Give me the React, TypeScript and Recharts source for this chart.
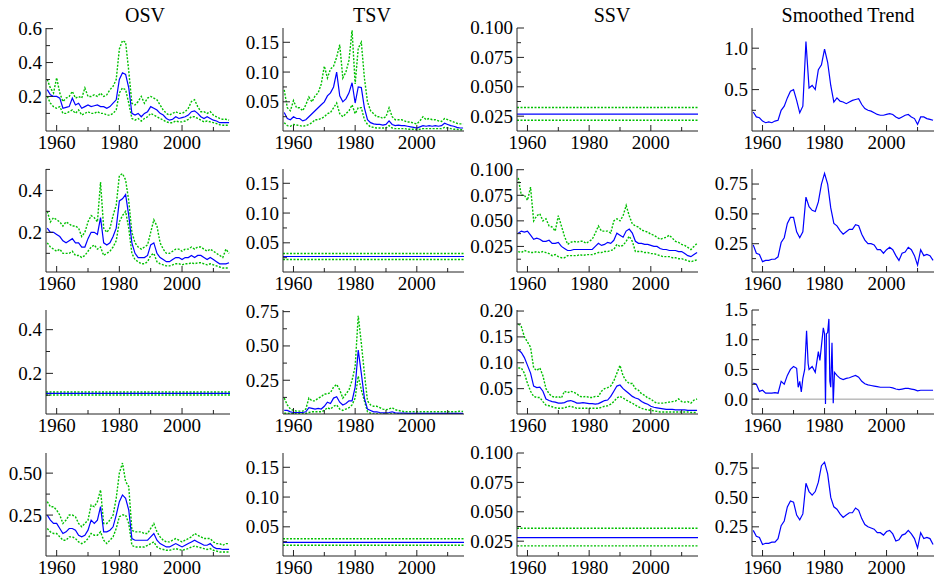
import { LineChart, Line, XAxis, YAxis, ReferenceLine } from 'recharts';

const FONT = '"Liberation Serif", "Times New Roman", serif';
const BLUE = '#0000ff';
const GREEN = '#00c000';

// ---- data -------------------------------------------------------------

const YEARS = [
  1957, 1958, 1959,
  1960, 1961, 1962, 1963, 1964, 1965, 1966, 1967, 1968, 1969,
  1970, 1971, 1972, 1973, 1974, 1975, 1976, 1977, 1978, 1979,
  1980, 1981, 1982, 1983, 1984, 1985, 1986, 1987, 1988, 1989,
  1990, 1991, 1992, 1993, 1994, 1995, 1996, 1997, 1998, 1999,
  2000, 2001, 2002, 2003, 2004, 2005, 2006, 2007, 2008, 2009,
  2010, 2011, 2012, 2013, 2014, 2015,
];

const X_DOMAIN: [number, number] = [1956.6, 2015.3];
const FLAT_T = [1956.6, 2015.3];
const X_TICKS = [1960, 1970, 1980, 1990, 2000, 2010];
const X_LABELS = [1960, 1980, 2000];
const TITLES = ['OSV', 'TSV', 'SSV', 'Smoothed Trend'];

// row 1
const OSV1_MID = [
  0.24, 0.21, 0.20,
  0.20, 0.19, 0.13, 0.135, 0.14, 0.19, 0.15, 0.16, 0.13, 0.14,
  0.15, 0.14, 0.145, 0.15, 0.14, 0.14, 0.13, 0.14, 0.16, 0.18,
  0.30, 0.34, 0.33, 0.25, 0.10, 0.09, 0.10, 0.08, 0.10, 0.11,
  0.14, 0.13, 0.12, 0.10, 0.09, 0.07, 0.06, 0.065, 0.08, 0.07,
  0.075, 0.08, 0.09, 0.11, 0.115, 0.10, 0.08, 0.07, 0.08, 0.07,
  0.06, 0.055, 0.045, 0.045, 0.045, 0.045,
];
const OSV1_HI = [
  0.30, 0.25, 0.22,
  0.31, 0.22, 0.17, 0.19, 0.20, 0.23, 0.19, 0.20, 0.19, 0.25,
  0.20, 0.20, 0.21, 0.20, 0.22, 0.20, 0.21, 0.24, 0.26, 0.30,
  0.48, 0.53, 0.52, 0.35, 0.16, 0.15, 0.17, 0.20, 0.16, 0.19,
  0.20, 0.19, 0.18, 0.15, 0.12, 0.10, 0.09, 0.10, 0.11, 0.10,
  0.10, 0.11, 0.13, 0.17, 0.18, 0.14, 0.11, 0.11, 0.10, 0.11,
  0.09, 0.08, 0.07, 0.065, 0.065, 0.06,
];
const OSV1_LO = [
  0.20, 0.16, 0.14,
  0.13, 0.14, 0.10, 0.10, 0.11, 0.12, 0.10, 0.12, 0.09, 0.10,
  0.11, 0.10, 0.10, 0.11, 0.10, 0.10, 0.09, 0.09, 0.10, 0.12,
  0.22, 0.25, 0.24, 0.16, 0.07, 0.06, 0.07, 0.055, 0.07, 0.08,
  0.10, 0.09, 0.08, 0.07, 0.06, 0.05, 0.045, 0.045, 0.055, 0.05,
  0.05, 0.055, 0.065, 0.08, 0.08, 0.07, 0.06, 0.05, 0.055, 0.05,
  0.045, 0.04, 0.033, 0.03, 0.03, 0.03,
];

const TSV1_MID = [
  0.032, 0.022, 0.020,
  0.025, 0.022, 0.022, 0.018, 0.020, 0.025, 0.030, 0.035, 0.040, 0.045,
  0.050, 0.060, 0.065, 0.075, 0.100, 0.060, 0.050, 0.055, 0.065, 0.082,
  0.048, 0.075, 0.074, 0.040, 0.020, 0.015, 0.013, 0.012, 0.012, 0.011,
  0.012, 0.018, 0.012, 0.010, 0.011, 0.010, 0.010, 0.009, 0.008, 0.007,
  0.006, 0.008, 0.010, 0.009, 0.010, 0.009, 0.010, 0.009, 0.010, 0.014,
  0.012, 0.010, 0.009, 0.007, 0.006, 0.006,
];
const TSV1_HI = [
  0.070, 0.040, 0.035,
  0.052, 0.040, 0.040, 0.035, 0.045, 0.058, 0.050, 0.060, 0.065, 0.080,
  0.110, 0.090, 0.105, 0.110, 0.125, 0.146, 0.090, 0.100, 0.120, 0.170,
  0.080, 0.140, 0.150, 0.090, 0.050, 0.035, 0.030, 0.025, 0.025, 0.022,
  0.025, 0.040, 0.025, 0.020, 0.020, 0.020, 0.018, 0.016, 0.016, 0.014,
  0.013, 0.018, 0.025, 0.020, 0.022, 0.020, 0.020, 0.018, 0.017, 0.022,
  0.020, 0.018, 0.016, 0.014, 0.013, 0.013,
];
const TSV1_LO = [
  0.015, 0.010, 0.009,
  0.012, 0.011, 0.010, 0.009, 0.010, 0.012, 0.015, 0.020, 0.020, 0.022,
  0.025, 0.030, 0.032, 0.040, 0.048, 0.030, 0.025, 0.030, 0.035, 0.045,
  0.030, 0.040, 0.040, 0.020, 0.012, 0.008, 0.007, 0.006, 0.006, 0.006,
  0.006, 0.010, 0.006, 0.005, 0.005, 0.005, 0.005, 0.004, 0.004, 0.004,
  0.003, 0.004, 0.005, 0.005, 0.005, 0.005, 0.005, 0.005, 0.005, 0.007,
  0.006, 0.005, 0.004, 0.004, 0.003, 0.003,
];

const SSV1_FLAT = [0.0324, 0.0267, 0.0216]; // hi, mid, lo

const TREND1 = [
  0.23, 0.17, 0.16,
  0.12, 0.10, 0.11, 0.10, 0.12, 0.13, 0.25, 0.30, 0.40, 0.48,
  0.50, 0.37, 0.22, 0.30, 1.08, 0.52, 0.55, 0.50, 0.74, 0.80,
  0.99, 0.83, 0.55, 0.35, 0.40, 0.36, 0.35, 0.33, 0.35, 0.37,
  0.38, 0.39, 0.32, 0.27, 0.25, 0.24, 0.22, 0.20, 0.19, 0.19,
  0.20, 0.21, 0.20, 0.17, 0.15, 0.17, 0.19, 0.20, 0.17, 0.15,
  0.08, 0.17, 0.17, 0.15, 0.14, 0.13,
];

// row 2
const OSV2_MID = [
  0.22, 0.20, 0.20,
  0.19, 0.18, 0.16, 0.15, 0.16, 0.17, 0.15, 0.15, 0.13, 0.13,
  0.17, 0.20, 0.20, 0.19, 0.27, 0.15, 0.14, 0.15, 0.18, 0.22,
  0.35, 0.36, 0.38, 0.28, 0.15, 0.10, 0.08, 0.08, 0.08, 0.09,
  0.14, 0.15, 0.10, 0.08, 0.07, 0.06, 0.06, 0.07, 0.08, 0.08,
  0.07, 0.08, 0.08, 0.09, 0.08, 0.09, 0.09, 0.08, 0.07, 0.08,
  0.07, 0.06, 0.05, 0.05, 0.05, 0.055,
];
const OSV2_HI = [
  0.30, 0.25, 0.27,
  0.26, 0.25, 0.23, 0.25, 0.24, 0.23, 0.23, 0.22, 0.18, 0.20,
  0.25, 0.28, 0.27, 0.25, 0.44, 0.22, 0.20, 0.22, 0.28, 0.33,
  0.47, 0.48, 0.45, 0.35, 0.20, 0.15, 0.13, 0.12, 0.13, 0.14,
  0.20, 0.26, 0.23, 0.15, 0.12, 0.10, 0.10, 0.11, 0.12, 0.12,
  0.11, 0.12, 0.12, 0.13, 0.12, 0.13, 0.13, 0.12, 0.11, 0.12,
  0.11, 0.10, 0.09, 0.08, 0.12, 0.10,
];
const OSV2_LO = [
  0.15, 0.13, 0.12,
  0.11, 0.12, 0.10, 0.10, 0.10, 0.11, 0.09, 0.09, 0.08, 0.09,
  0.11, 0.13, 0.14, 0.12, 0.13, 0.09, 0.10, 0.11, 0.13, 0.16,
  0.25, 0.28, 0.30, 0.22, 0.10, 0.07, 0.06, 0.05, 0.05, 0.06,
  0.09, 0.10, 0.06, 0.05, 0.045, 0.04, 0.04, 0.045, 0.05, 0.05,
  0.045, 0.05, 0.05, 0.055, 0.05, 0.055, 0.055, 0.05, 0.045, 0.05,
  0.045, 0.04, 0.035, 0.03, 0.03, 0.03,
];

const TSV2_FLAT = [0.032, 0.027, 0.022];

const SSV2_MID = [
  0.038, 0.040, 0.039,
  0.040, 0.036, 0.032, 0.033, 0.032, 0.030, 0.030, 0.031, 0.028, 0.028,
  0.029, 0.025, 0.023, 0.021, 0.021, 0.022, 0.022, 0.022, 0.022, 0.022,
  0.022, 0.022, 0.025, 0.028, 0.026, 0.027, 0.029, 0.028, 0.031, 0.038,
  0.036, 0.034, 0.040, 0.042, 0.038, 0.030, 0.028, 0.028, 0.027, 0.027,
  0.026, 0.025, 0.025, 0.023, 0.022, 0.022, 0.021, 0.021, 0.021, 0.020,
  0.020, 0.018, 0.016, 0.015, 0.017, 0.019,
];
const SSV2_HI = [
  0.092, 0.075, 0.075,
  0.070, 0.083, 0.050, 0.055, 0.057, 0.050, 0.052, 0.045, 0.044, 0.040,
  0.055, 0.045, 0.035, 0.027, 0.029, 0.030, 0.029, 0.030, 0.030, 0.028,
  0.030, 0.032, 0.038, 0.045, 0.040, 0.040, 0.040, 0.038, 0.050, 0.052,
  0.050, 0.055, 0.065, 0.055, 0.047, 0.045, 0.044, 0.041, 0.040, 0.039,
  0.037, 0.036, 0.034, 0.032, 0.033, 0.034, 0.036, 0.033, 0.030, 0.029,
  0.027, 0.026, 0.024, 0.022, 0.025, 0.028,
];
const SSV2_LO = [
  0.020, 0.019, 0.021,
  0.020, 0.019, 0.019, 0.020, 0.019, 0.020, 0.019, 0.018, 0.016, 0.017,
  0.015, 0.014, 0.014, 0.016, 0.016, 0.016, 0.016, 0.017, 0.016, 0.017,
  0.017, 0.017, 0.018, 0.019, 0.019, 0.020, 0.020, 0.021, 0.022, 0.027,
  0.025, 0.026, 0.030, 0.035, 0.030, 0.020, 0.020, 0.020, 0.019, 0.019,
  0.018, 0.018, 0.017, 0.016, 0.015, 0.015, 0.015, 0.014, 0.014, 0.013,
  0.013, 0.012, 0.011, 0.010, 0.011, 0.012,
];

const TREND2 = [
  0.24, 0.17, 0.16,
  0.10, 0.11, 0.11, 0.12, 0.12, 0.14, 0.26, 0.30, 0.42, 0.47,
  0.47, 0.35, 0.30, 0.35, 0.64, 0.56, 0.53, 0.52, 0.60, 0.75,
  0.84, 0.75, 0.55, 0.42, 0.40, 0.36, 0.33, 0.35, 0.37, 0.37,
  0.41, 0.40, 0.33, 0.28, 0.25, 0.25, 0.24, 0.20, 0.20, 0.17,
  0.20, 0.22, 0.20, 0.15, 0.11, 0.17, 0.18, 0.22, 0.20, 0.15,
  0.07, 0.20, 0.15, 0.16, 0.15, 0.11,
];

// row 3
const OSV3_FLAT = [0.115, 0.108, 0.101];

const TSV3_MID = [
  0.030, 0.030, 0.020,
  0.015, 0.015, 0.015, 0.015, 0.020, 0.050, 0.045, 0.040, 0.045, 0.040,
  0.060, 0.090, 0.080, 0.120, 0.130, 0.090, 0.070, 0.080, 0.100, 0.100,
  0.200, 0.470, 0.300, 0.120, 0.040, 0.030, 0.020, 0.020, 0.015, 0.012,
  0.012, 0.015, 0.020, 0.012, 0.010, 0.010, 0.010, 0.009, 0.009, 0.009,
  0.009, 0.009, 0.008, 0.008, 0.008, 0.008, 0.008, 0.008, 0.008, 0.008,
  0.008, 0.008, 0.008, 0.008, 0.008, 0.008,
];
const TSV3_HI = [
  0.120, 0.070, 0.040,
  0.030, 0.025, 0.025, 0.025, 0.040, 0.120, 0.100, 0.100, 0.120, 0.130,
  0.150, 0.150, 0.160, 0.200, 0.220, 0.180, 0.120, 0.150, 0.180, 0.250,
  0.350, 0.720, 0.520, 0.300, 0.100, 0.070, 0.060, 0.060, 0.050, 0.040,
  0.035, 0.040, 0.050, 0.035, 0.030, 0.025, 0.020, 0.020, 0.020, 0.020,
  0.020, 0.020, 0.020, 0.020, 0.020, 0.020, 0.020, 0.020, 0.020, 0.020,
  0.020, 0.020, 0.020, 0.020, 0.025, 0.022,
];
const TSV3_LO = [
  0.010, 0.010, 0.008,
  0.006, 0.006, 0.006, 0.006, 0.008, 0.015, 0.020, 0.020, 0.020, 0.020,
  0.030, 0.050, 0.040, 0.060, 0.070, 0.040, 0.030, 0.040, 0.050, 0.070,
  0.120, 0.280, 0.180, 0.100, 0.020, 0.010, 0.005, 0.005, 0.005, 0.005,
  0.005, 0.005, 0.005, 0.005, 0.005, 0.005, 0.005, 0.005, 0.005, 0.005,
  0.005, 0.005, 0.005, 0.005, 0.005, 0.005, 0.005, 0.005, 0.005, 0.005,
  0.005, 0.005, 0.005, 0.005, 0.005, 0.005,
];

const SSV3_MID = [
  0.125, 0.120, 0.110,
  0.095, 0.080, 0.055, 0.052, 0.053, 0.045, 0.030, 0.027, 0.025, 0.024,
  0.022, 0.022, 0.023, 0.026, 0.027, 0.025, 0.022, 0.022, 0.023, 0.022,
  0.021, 0.021, 0.020, 0.021, 0.024, 0.027, 0.028, 0.035, 0.045, 0.055,
  0.057, 0.050, 0.045, 0.040, 0.035, 0.032, 0.030, 0.025, 0.022, 0.020,
  0.016, 0.014, 0.013, 0.012, 0.011, 0.010, 0.010, 0.010, 0.009, 0.009,
  0.009, 0.009, 0.008, 0.008, 0.008, 0.008,
];
const SSV3_HI = [
  0.175, 0.170, 0.150,
  0.140, 0.130, 0.090, 0.085, 0.090, 0.075, 0.050, 0.040, 0.035, 0.033,
  0.035, 0.032, 0.045, 0.042, 0.045, 0.043, 0.040, 0.035, 0.034, 0.035,
  0.033, 0.033, 0.035, 0.035, 0.045, 0.050, 0.052, 0.055, 0.065, 0.080,
  0.095, 0.075, 0.065, 0.060, 0.060, 0.050, 0.047, 0.040, 0.037, 0.032,
  0.030, 0.025, 0.022, 0.022, 0.022, 0.023, 0.024, 0.025, 0.026, 0.030,
  0.025, 0.024, 0.025, 0.022, 0.028, 0.030,
];
const SSV3_LO = [
  0.090, 0.090, 0.080,
  0.060, 0.045, 0.035, 0.033, 0.033, 0.025, 0.018, 0.017, 0.015, 0.013,
  0.012, 0.012, 0.013, 0.015, 0.016, 0.014, 0.012, 0.012, 0.012, 0.012,
  0.012, 0.012, 0.012, 0.012, 0.014, 0.016, 0.017, 0.020, 0.025, 0.032,
  0.035, 0.032, 0.028, 0.025, 0.022, 0.018, 0.015, 0.012, 0.010, 0.009,
  0.008, 0.007, 0.006, 0.005, 0.005, 0.005, 0.005, 0.005, 0.005, 0.005,
  0.005, 0.005, 0.005, 0.004, 0.004, 0.004,
];

const TREND3_T = [
  1957, 1958, 1959, 1960, 1961, 1962, 1963, 1964, 1965, 1966, 1967, 1968, 1969, 1970, 1971,
  1971.5, 1972, 1972.5, 1973, 1973.6, 1974.2, 1974.7, 1975,
  1976, 1977, 1978, 1978.5, 1979, 1979.6, 1980, 1980.3, 1980.6, 1981, 1981.4, 1981.7,
  1982, 1982.4, 1982.8, 1983.2,
  1984, 1985, 1986, 1987, 1988, 1989, 1990, 1991, 1992, 1993, 1994, 1995, 1996, 1997,
  1998, 1999, 2000, 2001, 2002, 2003, 2004, 2005, 2006, 2007, 2008, 2009, 2010, 2011,
  2012, 2013, 2014, 2015,
];
const TREND3 = [
  0.27, 0.25, 0.13, 0.15, 0.10, 0.10, 0.10, 0.11, 0.10, 0.30, 0.25, 0.40, 0.50, 0.55, 0.52,
  0.20, 0.30, 0.12, 0.35, 0.50, 1.15, 0.60, 0.50,
  0.55, 0.45, 0.80, 0.65, 0.90, 1.20, 1.10, -0.08, 1.10, 1.12, 1.35, 0.30,
  0.20, 0.95, -0.07, 0.45,
  0.40, 0.35, 0.33, 0.35, 0.36, 0.38, 0.40, 0.37, 0.30, 0.26, 0.24, 0.23, 0.22, 0.21,
  0.20, 0.20, 0.20, 0.20, 0.19, 0.17, 0.16, 0.17, 0.18, 0.18, 0.17, 0.16, 0.14, 0.15,
  0.15, 0.15, 0.15, 0.15,
];

// row 4
const OSV4_MID = [
  0.25, 0.22, 0.20,
  0.20, 0.17, 0.14, 0.15, 0.17, 0.17, 0.16, 0.13, 0.12, 0.13,
  0.16, 0.22, 0.20, 0.22, 0.30, 0.15, 0.15, 0.16, 0.18, 0.25,
  0.33, 0.37, 0.35, 0.28, 0.11, 0.10, 0.10, 0.10, 0.10, 0.10,
  0.12, 0.14, 0.10, 0.08, 0.07, 0.06, 0.06, 0.07, 0.08, 0.07,
  0.06, 0.07, 0.08, 0.09, 0.10, 0.09, 0.08, 0.07, 0.07, 0.08,
  0.06, 0.05, 0.05, 0.045, 0.045, 0.045,
];
const OSV4_HI = [
  0.33, 0.30, 0.30,
  0.28, 0.25, 0.20, 0.22, 0.25, 0.25, 0.24, 0.20, 0.18, 0.20,
  0.22, 0.31, 0.30, 0.33, 0.40, 0.20, 0.20, 0.22, 0.25, 0.35,
  0.50, 0.56, 0.45, 0.42, 0.16, 0.15, 0.15, 0.15, 0.14, 0.14,
  0.17, 0.20, 0.15, 0.12, 0.10, 0.09, 0.09, 0.10, 0.11, 0.10,
  0.09, 0.10, 0.11, 0.12, 0.14, 0.13, 0.12, 0.11, 0.11, 0.11,
  0.09, 0.08, 0.08, 0.07, 0.08, 0.08,
];
const OSV4_LO = [
  0.17, 0.15, 0.14,
  0.14, 0.12, 0.10, 0.10, 0.12, 0.12, 0.11, 0.09, 0.08, 0.09,
  0.11, 0.14, 0.13, 0.13, 0.15, 0.10, 0.08, 0.10, 0.12, 0.17,
  0.24, 0.25, 0.25, 0.20, 0.07, 0.06, 0.06, 0.06, 0.06, 0.07,
  0.08, 0.09, 0.06, 0.05, 0.045, 0.04, 0.04, 0.045, 0.05, 0.045,
  0.04, 0.045, 0.05, 0.06, 0.065, 0.06, 0.055, 0.05, 0.045, 0.05,
  0.04, 0.035, 0.03, 0.03, 0.03, 0.03,
];

const TSV4_FLAT = [0.030, 0.024, 0.019];
const SSV4_FLAT = [0.036, 0.028, 0.021];

const TREND4 = [
  0.22, 0.17, 0.16,
  0.10, 0.11, 0.11, 0.12, 0.12, 0.15, 0.26, 0.30, 0.42, 0.47,
  0.46, 0.35, 0.31, 0.36, 0.62, 0.55, 0.52, 0.55, 0.63, 0.77,
  0.80, 0.70, 0.50, 0.42, 0.40, 0.36, 0.33, 0.35, 0.37, 0.37,
  0.41, 0.39, 0.32, 0.27, 0.25, 0.24, 0.23, 0.20, 0.20, 0.18,
  0.21, 0.22, 0.19, 0.13, 0.14, 0.18, 0.19, 0.22, 0.19, 0.15,
  0.07, 0.20, 0.15, 0.16, 0.15, 0.10,
];

// ---- layout -----------------------------------------------------------

const PAGE_H = 577;
const COL_L = [46, 283, 517, 752];
const COL_R = [230, 464, 698, 934];
const ROW_T = [28, 169, 310, 453];
const ROW_B = [131, 272, 414, 556];
const TITLE_X = [145, 372, 612, 848];

interface PanelSpec {
  row: number;
  col: number;
  t: number[];
  mid: number[];
  hi?: number[];
  lo?: number[];
  yDomain: [number, number];
  labels: number[];
  minor: number[];
  digits: number;
  zero?: boolean;
}

const flat = (levels: number[]) => ({
  t: FLAT_T,
  hi: [levels[0], levels[0]],
  mid: [levels[1], levels[1]],
  lo: [levels[2], levels[2]],
});

const TSV_AXIS = {
  yDomain: [0.001, 0.174] as [number, number],
  labels: [0.05, 0.1, 0.15],
  minor: [0.025, 0.075, 0.125],
  digits: 2,
};
const SSV_AXIS = {
  yDomain: [0.0124, 0.1] as [number, number],
  labels: [0.025, 0.05, 0.075, 0.1],
  minor: [0.0375, 0.0625, 0.0875],
  digits: 3,
};

const PANELS: PanelSpec[] = [
  { row: 0, col: 0, t: YEARS, mid: OSV1_MID, hi: OSV1_HI, lo: OSV1_LO,
    yDomain: [-0.004, 0.604], labels: [0.2, 0.4, 0.6], minor: [0.1, 0.3, 0.5], digits: 1 },
  { row: 0, col: 1, t: YEARS, mid: TSV1_MID, hi: TSV1_HI, lo: TSV1_LO, ...TSV_AXIS },
  { row: 0, col: 2, ...flat(SSV1_FLAT), ...SSV_AXIS },
  { row: 0, col: 3, t: YEARS, mid: TREND1,
    yDomain: [0, 1.244], labels: [0.5, 1.0], minor: [0.25, 0.75], digits: 1 },

  { row: 1, col: 0, t: YEARS, mid: OSV2_MID, hi: OSV2_HI, lo: OSV2_LO,
    yDomain: [0.011, 0.502], labels: [0.2, 0.4], minor: [0.1, 0.3, 0.5], digits: 1 },
  { row: 1, col: 1, ...flat(TSV2_FLAT), ...TSV_AXIS },
  { row: 1, col: 2, t: YEARS, mid: SSV2_MID, hi: SSV2_HI, lo: SSV2_LO,
    yDomain: [0, 0.1007], labels: [0.025, 0.05, 0.075, 0.1], minor: [0.0125, 0.0375, 0.0625, 0.0875], digits: 3 },
  { row: 1, col: 3, t: YEARS, mid: TREND2,
    yDomain: [0.013, 0.876], labels: [0.25, 0.5, 0.75], minor: [0.125, 0.375, 0.625], digits: 2 },

  { row: 2, col: 0, ...flat(OSV3_FLAT),
    yDomain: [0.014, 0.49], labels: [0.2, 0.4], minor: [0.1, 0.3], digits: 1 },
  { row: 2, col: 1, t: YEARS, mid: TSV3_MID, hi: TSV3_HI, lo: TSV3_LO,
    yDomain: [0.004, 0.762], labels: [0.25, 0.5, 0.75], minor: [0.125, 0.375, 0.625], digits: 2 },
  { row: 2, col: 2, t: YEARS, mid: SSV3_MID, hi: SSV3_HI, lo: SSV3_LO,
    yDomain: [0.001, 0.202], labels: [0.05, 0.1, 0.15, 0.2], minor: [0.025, 0.075, 0.125, 0.175], digits: 2 },
  { row: 2, col: 3, t: TREND3_T, mid: TREND3, zero: true,
    yDomain: [-0.25, 1.5], labels: [0, 0.5, 1.0, 1.5], minor: [0.25, 0.75, 1.25], digits: 1 },

  { row: 3, col: 0, t: YEARS, mid: OSV4_MID, hi: OSV4_HI, lo: OSV4_LO,
    yDomain: [0.006, 0.62], labels: [0.25, 0.5], minor: [0.125, 0.375], digits: 2 },
  { row: 3, col: 1, ...flat(TSV4_FLAT), ...TSV_AXIS },
  { row: 3, col: 2, ...flat(SSV4_FLAT), ...SSV_AXIS },
  { row: 3, col: 3, t: YEARS, mid: TREND4,
    yDomain: [0.002, 0.878], labels: [0.25, 0.5, 0.75], minor: [0.125, 0.375, 0.625], digits: 2 },
];

// ---- ticks ------------------------------------------------------------

const TEXT_STYLE = { fontFamily: FONT, fontSize: 19, fill: '#000' };

const XTick = (props: any) => {
  const { x, y, payload } = props;
  const major = X_LABELS.includes(payload.value);
  return (
    <g>
      <line x1={x} x2={x} y1={y} y2={y - (major ? 6 : 4)} stroke="#222" />
      {major && (
        <text x={x} y={y + 18} textAnchor="middle" style={TEXT_STYLE}>
          {payload.value}
        </text>
      )}
    </g>
  );
};

const makeYTick = (labels: number[], digits: number) => (props: any) => {
  const { x, y, payload } = props;
  const v = payload.value as number;
  const major = labels.some((l) => Math.abs(l - v) < 1e-9);
  return (
    <g>
      <line x1={x} x2={x + (major ? 7 : 4)} y1={y} y2={y} stroke="#222" />
      {major && (
        <text x={x - 4} y={y} dy="0.34em" textAnchor="end" style={TEXT_STYLE}>
          {v.toFixed(digits)}
        </text>
      )}
    </g>
  );
};

// ---- panel ------------------------------------------------------------

const AXIS_W = 60;
const PAD_TOP = 10;
const PAD_RIGHT = 6;

function Panel({ spec }: { spec: PanelSpec }) {
  const left = COL_L[spec.col];
  const top = ROW_T[spec.row];
  const axisH = Math.min(30, PAGE_H - ROW_B[spec.row]);
  const w = COL_R[spec.col] - left + AXIS_W + PAD_RIGHT;
  const h = ROW_B[spec.row] - top + PAD_TOP + axisH;
  const data = spec.t.map((t, i) => ({
    t,
    mid: spec.mid[i],
    hi: spec.hi ? spec.hi[i] : undefined,
    lo: spec.lo ? spec.lo[i] : undefined,
  }));
  const yTicks = [...spec.labels, ...spec.minor].sort((a, b) => a - b);

  return (
    <div style={{ position: 'absolute', left: left - AXIS_W, top: top - PAD_TOP }}>
      <LineChart width={w} height={h} data={data} margin={{ top: PAD_TOP, right: PAD_RIGHT, left: 0, bottom: 0 }}>
        <XAxis
          type="number"
          dataKey="t"
          domain={X_DOMAIN}
          ticks={X_TICKS}
          interval={0}
          allowDataOverflow
          height={axisH}
          tickSize={0}
          tickMargin={0}
          tickLine={false}
          axisLine={{ stroke: '#222' }}
          tick={XTick}
        />
        <YAxis
          type="number"
          domain={spec.yDomain}
          ticks={yTicks}
          interval={0}
          allowDataOverflow
          width={AXIS_W}
          tickSize={0}
          tickMargin={0}
          tickLine={false}
          axisLine={{ stroke: '#222' }}
          tick={makeYTick(spec.labels, spec.digits)}
        />
        {spec.zero && <ReferenceLine y={0} stroke="#9a9a9a" strokeWidth={1} />}
        {spec.hi && (
          <Line dataKey="hi" stroke={GREEN} strokeWidth={1.4} strokeDasharray="2 1.5" dot={false} activeDot={false} isAnimationActive={false} />
        )}
        {spec.lo && (
          <Line dataKey="lo" stroke={GREEN} strokeWidth={1.4} strokeDasharray="2 1.5" dot={false} activeDot={false} isAnimationActive={false} />
        )}
        <Line dataKey="mid" stroke={BLUE} strokeWidth={1.2} dot={false} activeDot={false} isAnimationActive={false} />
      </LineChart>
    </div>
  );
}

export default function App() {
  return (
    <div
      style={{
        position: 'absolute',
        left: 0,
        top: 0,
        width: 937,
        height: PAGE_H,
        overflow: 'hidden',
        background: '#fff',
        fontFamily: FONT,
      }}
    >
      <svg width={937} height={30} style={{ position: 'absolute', left: 0, top: 0 }}>
        {TITLES.map((title, i) => (
          <text key={title} x={TITLE_X[i]} y={22} textAnchor="middle" style={{ fontFamily: FONT, fontSize: 20, fill: '#000' }}>
            {title}
          </text>
        ))}
      </svg>
      {PANELS.map((p) => (
        <Panel key={`${p.row}-${p.col}`} spec={p} />
      ))}
    </div>
  );
}
